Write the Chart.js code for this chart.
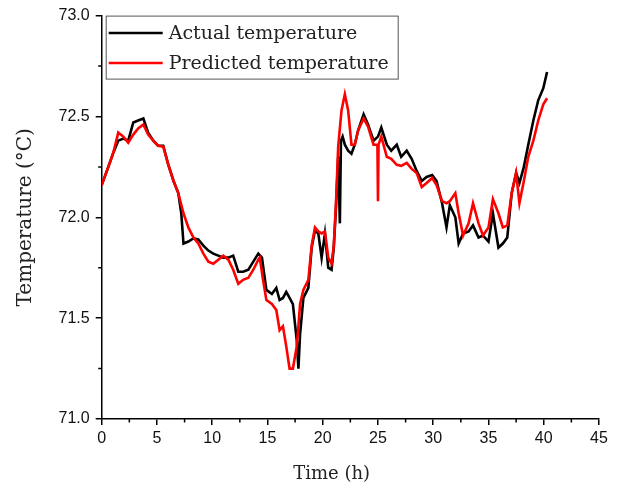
<!DOCTYPE html>
<html>
<head>
<meta charset="utf-8">
<script src="https://cdn.jsdelivr.net/npm/chart.js@4.4.1/dist/chart.umd.min.js"></script>
<style>
  html, body { margin: 0; padding: 0; background: #fff; }
  #wrap { width: 619px; height: 487px; }
</style>
</head>
<body>
<div id="wrap"><canvas id="tempChart" width="619" height="487"></canvas></div>
<script>
// values
const actualTime = [0, 0.6, 1.05, 1.5, 1.96, 2.4, 2.86, 3.3, 3.77, 4.2, 4.67, 5.1, 5.57, 6.03, 6.5, 6.93, 7.2, 7.4, 7.84, 8.3, 8.74, 9.2, 9.65, 10.1, 10.55, 11.0, 11.46, 11.9, 12.36, 12.8, 13.27, 13.72, 14.17, 14.5, 14.9, 15.4, 15.8, 16.1, 16.4, 16.7, 17.0, 17.3, 17.65, 17.8, 17.95, 18.25, 18.7, 19.0, 19.3, 19.6, 19.9, 20.2, 20.5, 20.8, 21.0, 21.2, 21.4, 21.55, 21.65, 21.8, 22.0, 22.3, 22.6, 22.9, 23.2, 23.7, 24.1, 24.6, 25.0, 25.3, 25.8, 26.2, 26.7, 27.1, 27.6, 28.05, 28.5, 28.96, 29.4, 29.9, 30.3, 30.8, 31.2, 31.5, 32.0, 32.3, 32.7, 33.2, 33.6, 34.1, 34.5, 35.0, 35.4, 35.9, 36.3, 36.7, 37.1, 37.5, 37.8, 38.2, 38.6, 39.06, 39.5, 39.96, 40.3];
const actualTemp = [72.16, 72.25, 72.32, 72.38, 72.39, 72.38, 72.47, 72.48, 72.49, 72.42, 72.38, 72.355, 72.355, 72.26, 72.18, 72.12, 72.02, 71.87, 71.88, 71.895, 71.89, 71.86, 71.835, 71.82, 71.81, 71.80, 71.80, 71.81, 71.73, 71.73, 71.74, 71.78, 71.82, 71.80, 71.64, 71.62, 71.65, 71.59, 71.60, 71.63, 71.60, 71.57, 71.39, 71.25, 71.42, 71.60, 71.65, 71.85, 71.935, 71.92, 71.80, 71.92, 71.75, 71.74, 71.85, 72.05, 72.30, 71.97, 72.38, 72.40, 72.36, 72.33, 72.315, 72.36, 72.43, 72.51, 72.46, 72.38, 72.40, 72.445, 72.36, 72.33, 72.36, 72.30, 72.33, 72.29, 72.23, 72.18, 72.20, 72.21, 72.18, 72.07, 71.95, 72.06, 72.00, 71.87, 71.92, 71.93, 71.96, 71.90, 71.91, 71.88, 72.02, 71.85, 71.87, 71.90, 72.12, 72.22, 72.17, 72.25, 72.36, 72.48, 72.58, 72.64, 72.72];

const predTime = [0, 0.6, 1.05, 1.5, 1.96, 2.4, 2.86, 3.3, 3.77, 4.2, 4.67, 5.1, 5.57, 6.03, 6.5, 6.93, 7.4, 7.84, 8.3, 8.74, 9.2, 9.65, 10.1, 10.55, 11.0, 11.46, 11.9, 12.36, 12.8, 13.27, 13.72, 14.17, 14.3, 14.6, 14.9, 15.4, 15.8, 16.1, 16.4, 16.7, 17.0, 17.3, 17.65, 17.8, 17.95, 18.25, 18.7, 19.0, 19.3, 19.6, 19.9, 20.2, 20.5, 20.8, 21.0, 21.2, 21.4, 21.7, 22.0, 22.3, 22.6, 22.9, 23.2, 23.7, 24.1, 24.6, 24.95, 25.0, 25.05, 25.3, 25.8, 26.2, 26.7, 27.1, 27.6, 28.05, 28.5, 28.96, 29.4, 29.9, 30.3, 30.8, 31.2, 31.5, 32.0, 32.3, 32.7, 33.2, 33.6, 34.1, 34.5, 35.0, 35.4, 35.9, 36.3, 36.7, 37.1, 37.5, 37.8, 38.2, 38.6, 39.06, 39.5, 39.96, 40.3];
const predTemp = [72.16, 72.25, 72.32, 72.42, 72.40, 72.37, 72.41, 72.44, 72.46, 72.41, 72.38, 72.355, 72.35, 72.26, 72.18, 72.12, 72.02, 71.95, 71.90, 71.87, 71.82, 71.78, 71.77, 71.79, 71.81, 71.79, 71.74, 71.67, 71.69, 71.70, 71.74, 71.79, 71.80, 71.69, 71.59, 71.57, 71.54, 71.44, 71.46, 71.36, 71.25, 71.25, 71.36, 71.46, 71.57, 71.64, 71.69, 71.86, 71.95, 71.93, 71.92, 71.93, 71.80, 71.77, 71.86, 72.07, 72.35, 72.53, 72.61, 72.53, 72.36, 72.36, 72.43, 72.49, 72.45, 72.36, 72.36, 72.08, 72.36, 72.40, 72.30, 72.29, 72.26, 72.255, 72.27, 72.24, 72.22, 72.15, 72.17, 72.195, 72.16, 72.08, 72.07, 72.08, 72.12, 72.02, 71.91, 71.97, 72.07, 71.97, 71.91, 71.95, 72.09, 72.02, 71.95, 71.96, 72.12, 72.22, 72.07, 72.18, 72.30, 72.38, 72.48, 72.56, 72.59];

const seriesLabels = ["Actual temperature", "Predicted temperature"];
const seriesColors = ["#000000", "#ff0000"];
const xTicks = [0, 5, 10, 15, 20, 25, 30, 35, 40, 45];
const yTicks = [71.0, 71.5, 72.0, 72.5, 73.0];
const xTitle = "Time (h)";
const yTitle = "Temperature (°C)";

const toPts = (xs, ys) => xs.map((x, i) => ({ x, y: ys[i] }));

const SERIF = "'DejaVu Serif', serif";

/** Short minor ticks halfway between the labelled ones (Origin style). */
const minorTicks = {
  id: "minorTicks",
  afterDraw(chart) {
    const { ctx, scales: { x, y } } = chart;
    ctx.save();
    ctx.strokeStyle = "#000";
    ctx.lineWidth = 1.5;
    ctx.beginPath();
    for (let i = 0; i < xTicks.length - 1; i++) {
      const px = x.getPixelForValue((xTicks[i] + xTicks[i + 1]) / 2);
      ctx.moveTo(px, x.top);
      ctx.lineTo(px, x.top + 3.5);
    }
    for (let i = 0; i < yTicks.length - 1; i++) {
      const py = y.getPixelForValue((yTicks[i] + yTicks[i + 1]) / 2);
      ctx.moveTo(y.right, py);
      ctx.lineTo(y.right - 3.5, py);
    }
    ctx.stroke();
    ctx.restore();
  },
};

/** Axis titles, placed where the reference has them. */
const axisTitles = {
  id: "axisTitles",
  afterDraw(chart) {
    const { ctx, chartArea } = chart;
    ctx.save();
    ctx.fillStyle = "#222";
    ctx.textAlign = "center";
    ctx.textBaseline = "middle";
    ctx.font = `18px ${SERIF}`;
    ctx.fillText(xTitle, chartArea.left + 230, 474);
    ctx.translate(26, (chartArea.top + chartArea.bottom) / 2);
    ctx.rotate(-Math.PI / 2);
    ctx.font = `20px ${SERIF}`;
    ctx.fillText(yTitle, 0, 0);
    ctx.restore();
  },
};

/** Boxed legend in the top-left corner of the plot. */
const boxLegend = {
  id: "boxLegend",
  afterDraw(chart) {
    const { ctx, chartArea } = chart;
    const left = chartArea.left + 4;
    const top = chartArea.top + 0.5;
    ctx.save();
    ctx.font = `19px ${SERIF}`;
    const textX = left + 63;
    const w = Math.max(...seriesLabels.map(s => ctx.measureText(s).width));
    ctx.strokeStyle = "#555";
    ctx.lineWidth = 1;
    ctx.strokeRect(left + 0.5, top, textX - left + w + 9, 63);
    chart.data.datasets.forEach((ds, i) => {
      const cy = top + 17 + i * 30;
      ctx.strokeStyle = ds.borderColor;
      ctx.lineWidth = 2.5;
      ctx.beginPath();
      ctx.moveTo(left + 3, cy);
      ctx.lineTo(left + 57, cy);
      ctx.stroke();
      ctx.fillStyle = "#222";
      ctx.textBaseline = "middle";
      ctx.fillText(ds.label, textX, cy + 1);
    });
    ctx.restore();
  },
};

const canvas = document.getElementById("tempChart");
new Chart(canvas, {
  type: "line",
  data: {
    datasets: [
      {
        label: seriesLabels[0],
        data: toPts(actualTime, actualTemp),
        borderColor: seriesColors[0],
        borderWidth: 2.6,
        pointRadius: 0,
        tension: 0,
        order: 1,
      },
      {
        label: seriesLabels[1],
        data: toPts(predTime, predTemp),
        borderColor: seriesColors[1],
        borderWidth: 2.6,
        pointRadius: 0,
        tension: 0,
        order: 0,
      },
    ],
  },
  options: {
    responsive: false,
    devicePixelRatio: 1,
    animation: false,
    layout: { padding: { top: 15, right: 20, bottom: 0, left: 0 } },
    plugins: { legend: { display: false }, tooltip: { enabled: false } },
    scales: {
      x: {
        type: "linear",
        min: 0,
        max: 45,
        afterBuildTicks: s => { s.ticks = xTicks.map(v => ({ value: v })); },
        afterFit: s => { s.height = 68; },
        ticks: { color: "#111", font: { family: "'Liberation Sans', Arial", size: 16 }, padding: 4, maxRotation: 0, callback: v => String(v) },
        grid: { drawOnChartArea: false, tickLength: 6, color: "#000", lineWidth: 1.5 },
        border: { color: "#000", width: 1.5 },
      },
      y: {
        min: 71,
        max: 73,
        afterBuildTicks: s => { s.ticks = yTicks.map(v => ({ value: v })); },
        afterFit: s => { s.width = 101.7; },
        ticks: { color: "#111", font: { family: "'Liberation Sans', Arial", size: 16 }, padding: 6, callback: v => v.toFixed(1) },
        grid: { drawOnChartArea: false, tickLength: 6, color: "#000", lineWidth: 1.5 },
        border: { color: "#000", width: 1.5 },
      },
    },
  },
  plugins: [minorTicks, axisTitles, boxLegend],
});
</script>
</body>
</html>
